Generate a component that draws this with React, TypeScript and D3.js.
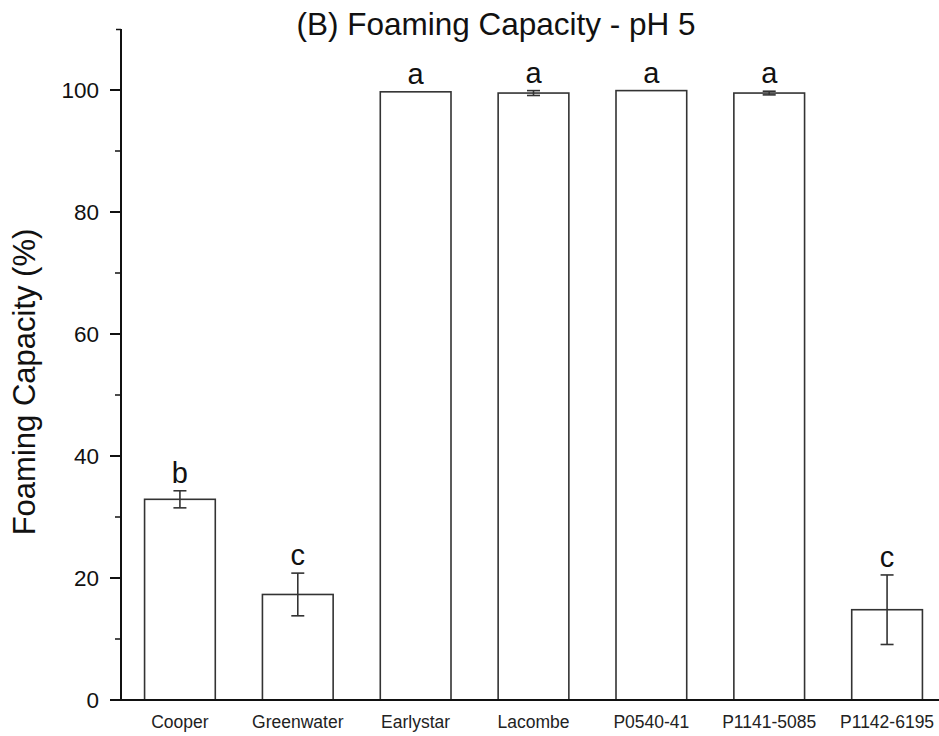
import React from "react";
import * as d3 from "d3";

const categories = ["Cooper", "Greenwater", "Earlystar", "Lacombe", "P0540-41", "P1141-5085", "P1142-6195"];
const means = [32.9, 17.3, 99.7, 99.5, 99.9, 99.5, 14.8];
const errors = [1.4, 3.5, 0, 0.4, 0, 0.3, 5.7];
const letters = ["b", "c", "a", "a", "a", "a", "c"];
const yTicksMajor = [0, 20, 40, 60, 80, 100];
const yTicksMinor = [10, 30, 50, 70, 90];

const W = 939;
const H = 736;
const FONT = "'Liberation Sans', Arial, Helvetica, sans-serif";

export default function App() {
  const axisX = 121;
  const axisY = 700;
  const y = d3.scaleLinear().domain([0, 110]).range([axisY, 29]);
  const x = d3
    .scaleBand<string>()
    .domain(categories)
    .range([axisX, 946])
    .paddingInner(0.4)
    .paddingOuter(0.2);
  const bw = x.bandwidth();

  return (
    <svg
      width={W}
      height={H}
      style={{ position: "absolute", left: 0, top: 0, background: "#fff" }}
      fontFamily={FONT}
    >
      <rect x={0} y={0} width={W} height={H} fill="#fff" />
      {/* title */}
      <text x={496} y={35} textAnchor="middle" fontSize={31.5} fill="#111">
        (B) Foaming Capacity - pH 5
      </text>

      {/* bars */}
      {categories.map((c, i) => {
        const x0 = x(c)!;
        const cx = x0 + bw / 2;
        const top = y(means[i]);
        const eTop = y(means[i] + errors[i]);
        const eBot = y(means[i] - errors[i]);
        return (
          <g key={c}>
            <rect
              x={x0}
              y={top}
              width={bw}
              height={axisY - top}
              fill="#fff"
              stroke="#333"
              strokeWidth={1.6}
            />
            {errors[i] > 0 && (
              <g stroke="#333" strokeWidth={1.6}>
                <line x1={cx} x2={cx} y1={eTop} y2={eBot} />
                <line x1={cx - 6.5} x2={cx + 6.5} y1={eTop} y2={eTop} />
                <line x1={cx - 6.5} x2={cx + 6.5} y1={eBot} y2={eBot} />
              </g>
            )}
            <text x={cx} y={eTop - 8} textAnchor="middle" fontSize={29} fill="#111">
              {letters[i]}
            </text>
            <text x={cx} y={728} textAnchor="middle" fontSize={17.5} fill="#222">
              {c}
            </text>
          </g>
        );
      })}

      {/* y axis */}
      <line x1={axisX} x2={axisX} y1={29} y2={axisY} stroke="#111" strokeWidth={2} />
      <line x1={axisX} x2={axisX - 5} y1={29.5} y2={29.5} stroke="#111" strokeWidth={1.5} />
      {yTicksMajor.map((t) => (
        <g key={"M" + t}>
          <line x1={110} x2={axisX} y1={y(t)} y2={y(t)} stroke="#111" strokeWidth={2} />
          <text
            x={99}
            y={y(t)}
            dy="0.35em"
            textAnchor="end"
            fontSize={22.5}
            fill="#111"
          >
            {t}
          </text>
        </g>
      ))}
      {yTicksMinor.map((t) => (
        <line key={"m" + t} x1={115} x2={axisX} y1={y(t)} y2={y(t)} stroke="#111" strokeWidth={1.5} />
      ))}

      {/* x axis */}
      <line x1={110} x2={W} y1={axisY} y2={axisY} stroke="#111" strokeWidth={2} />

      {/* y label */}
      <text
        transform={`translate(35,382) rotate(-90)`}
        textAnchor="middle"
        fontSize={31}
        fill="#111"
      >
        Foaming Capacity (%)
      </text>
    </svg>
  );
}
